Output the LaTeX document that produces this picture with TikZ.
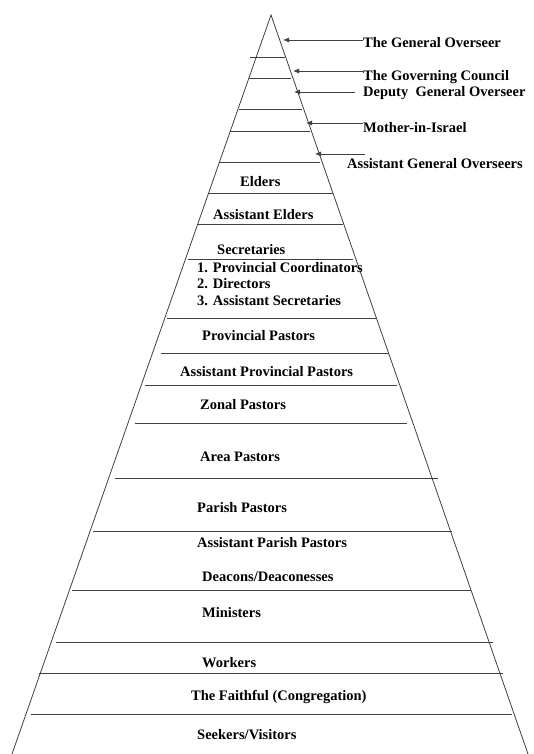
\documentclass[tikz,border=0pt]{standalone}
\usepackage{fontspec}
\setmainfont{Liberation Serif}
\usetikzlibrary{arrows.meta}
\tikzset{> = { Latex[length = 6pt, width = 5pt] }}

\begin{document}
\begin{tikzpicture}[x = 1pt, y = -1pt,
		rank/.style = {anchor = west, inner sep = 0pt, font = \fontsize{14.5}{16}\selectfont\bfseries},
		tier/.style = {draw = black!75, line width = 0.8pt}]
	\useasboundingbox (0, 0) rectangle (533, 754);

	% outline of the pyramid
	\coordinate (apex) at (271, 15);
	\coordinate (baseL) at (12, 754);
	\coordinate (baseR) at (528, 754);
	\draw [tier] (baseL) -- (apex) -- (baseR);

	% tier lines
	\foreach \y/\xl/\xr in {57/250/285, 78/249/291, 109/239/302, 131/230/310, 162/219/320,
			193/208/333, 224/198/343, 259/188/353, 318/167/376, 353/161/389, 385/145/397,
			423/135/407, 478/115/438, 531/93/452, 590/72/471, 642/56/493, 673/39/503, 714/31/512}
		\draw [tier] (\xl, \y) -- (\xr, \y);

	% top ranks, pointed at from the right
	\node [rank] (gen) at (363, 43) {The General Overseer};
	\node [rank] (council) at (363, 77) {The Governing Council};
	\node [rank] (deputy) at (363, 93) {Deputy\ \ General Overseer};
	\node [rank] (mother) at (363, 128) {Mother-in-Israel};
	\node [rank] (asstgen) at (347, 164) {Assistant General Overseers};

	\coordinate (genT) at (363, 40);     \coordinate (genH) at (283, 40);
	\coordinate (councilT) at (363, 71); \coordinate (councilH) at (293, 71);
	\coordinate (deputyT) at (355, 92);  \coordinate (deputyH) at (294, 92);
	\coordinate (motherT) at (363, 123); \coordinate (motherH) at (306, 123);
	\coordinate (asstgenT) at (365, 154); \coordinate (asstgenH) at (315, 154);
	\foreach \r in {gen, council, deputy, mother, asstgen}
		\draw [->, draw = black!75, line width = 0.8pt] (\r T) -- (\r H);

	% ranks inside the pyramid
	\node [rank] (elders) at (240, 182) {Elders};
	\node [rank] (asstelders) at (213, 215) {Assistant Elders};
	\node [rank] (secretaries) at (217, 250) {Secretaries};
	\node [rank] (sec1) at (197, 268) {1. Provincial Coordinators};
	\node [rank] (sec2) at (197, 284) {2. Directors};
	\node [rank] (sec3) at (197, 301) {3. Assistant Secretaries};
	\node [rank] (provpastors) at (202, 336) {Provincial Pastors};
	\node [rank] (asstprov) at (180, 372) {Assistant Provincial Pastors};
	\node [rank] (zonal) at (200, 405) {Zonal Pastors};
	\node [rank] (area) at (200, 457) {Area Pastors};
	\node [rank] (parish) at (197, 508) {Parish Pastors};
	\node [rank] (asstparish) at (197, 543) {Assistant Parish Pastors};
	\node [rank] (deacons) at (202, 577) {Deacons/Deaconesses};
	\node [rank] (ministers) at (202, 613) {Ministers};
	\node [rank] (workers) at (202, 663) {Workers};
	\node [rank] (faithful) at (191, 697) {The Faithful (Congregation)};
	\node [rank] (seekers) at (197, 735) {Seekers/Visitors};
\end{tikzpicture}
\end{document}
